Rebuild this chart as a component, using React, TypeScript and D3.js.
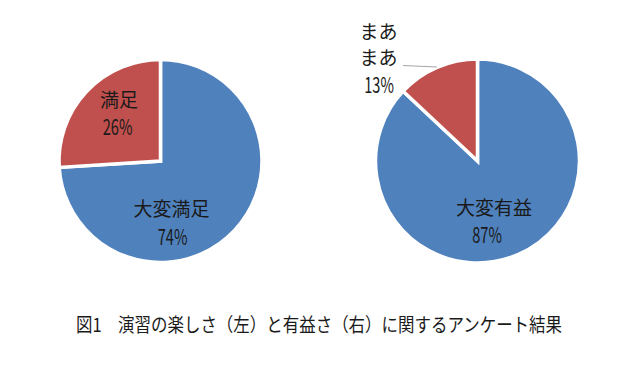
import React from "react";
import * as d3 from "d3";

const leftCategories = ["大変満足", "満足"];
const leftValues = [74, 26];
const rightCategories = ["大変有益", "まあまあ"];
const rightValues = [87, 13];
const colors = ["#4F81BD", "#C0504D"];
const title = "図1　演習の楽しさ（左）と有益さ（右）に関するアンケート結果";

const FONT = "'Noto Sans CJK JP', 'Noto Sans', sans-serif";
const INK = "#1a1a1a";

type PieProps = { cx: number; cy: number; r: number; cats: string[]; vals: number[]; children?: React.ReactNode };

function Pie({ cx, cy, r, cats, vals, children }: PieProps) {
  const pie = d3.pie<number>().sort(null).value((d) => d);
  const arcs = pie(vals);
  const arc = d3.arc<d3.PieArcDatum<number>>().innerRadius(0).outerRadius(r);
  return (
    <g transform={`translate(${cx},${cy})`}>
      {arcs.map((a, i) => (
        <path key={cats[i]} d={arc(a) || ""} fill={colors[i]} stroke="#fff" strokeWidth={3.5} strokeLinejoin="miter" />
      ))}
      {children}
    </g>
  );
}

function Label({ x, y, text }: { x: number; y: number; text: string }) {
  return (
    <text x={x} y={y} fontSize={19} textAnchor="middle" fill={INK}>
      {text}
    </text>
  );
}

function Pct({ x, y, value }: { x: number; y: number; value: number }) {
  return (
    <text transform={`translate(${x},${y}) scale(0.68,1)`} fontSize={21.5} textAnchor="middle" fill={INK}>
      {`${value}%`}
    </text>
  );
}

export default function App() {
  return (
    <svg width={640} height={381} style={{ position: "absolute", left: 0, top: 0, background: "#fff" }} fontFamily={FONT}>
      <rect width={640} height={381} fill="#fff" />
      <Pie cx={160.5} cy={161} r={101.5} cats={leftCategories} vals={leftValues}>
        <Label x={-41.5} y={-54} text={leftCategories[1]} />
        <Pct x={-43} y={-26} value={leftValues[1]} />
        <Label x={11} y={55} text={leftCategories[0]} />
        <Pct x={12} y={84} value={leftValues[0]} />
      </Pie>
      <Pie cx={477.5} cy={161} r={102} cats={rightCategories} vals={rightValues}>
        <Label x={16.5} y={54} text={rightCategories[0]} />
        <Pct x={9.5} y={82} value={rightValues[0]} />
      </Pie>
      <Label x={378.5} y={39} text={rightCategories[1].slice(0, 2)} />
      <Label x={378.5} y={65} text={rightCategories[1].slice(2)} />
      <Pct x={379} y={93} value={rightValues[1]} />
      <line x1={403} y1={65.5} x2={437} y2={67} stroke="#a6a6a6" strokeWidth={1} />
      <text x={319} y={332} fontSize={19} textAnchor="middle" fill={INK} textLength={486} lengthAdjust="spacingAndGlyphs">
        {title}
      </text>
    </svg>
  );
}
